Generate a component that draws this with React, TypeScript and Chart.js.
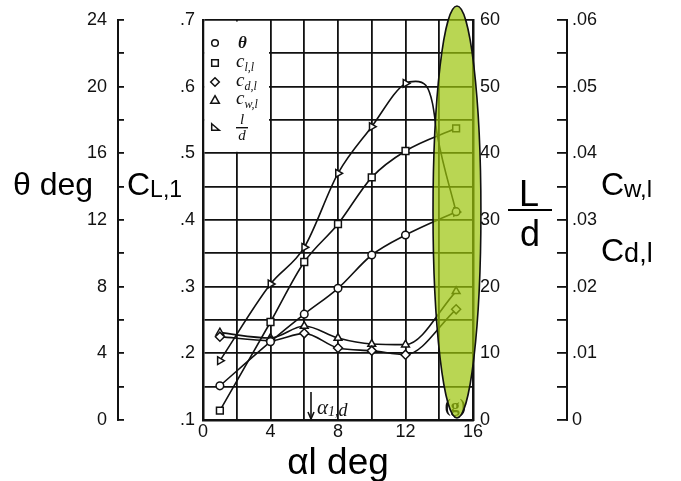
import { useEffect, useRef } from "react";
import { Chart, registerables } from "chart.js";

Chart.register(...registerables);

// ---- data ----
const alphaDeg = [1, 4, 6, 8, 10, 12, 15];
const thetaDeg = [2.05, 4.7, 6.35, 7.9, 9.9, 11.1, 12.5];
const clValues = [0.114, 0.247, 0.337, 0.394, 0.464, 0.5035, 0.5375];
const cwValues = [0.0131, 0.0123, 0.0141, 0.0123, 0.0114, 0.0113, 0.0193];
const cdValues = [0.0125, 0.0119, 0.013, 0.0108, 0.0104, 0.0098, 0.0166];
const ldAlpha = [1, 4, 6, 8, 10, 12, 12.6, 13.2, 13.6, 13.9, 15];
const ldValues = [8.9, 20.4, 25.9, 37, 44, 50.5, 50.8, 50.2, 47.5, 42.5, 31.2];
const ldMarked = [true, true, true, true, true, true, false, false, false, false, true];

const xTickLabels = ["0", "4", "8", "12", "16"];
const clTickLabels = [".1", ".2", ".3", ".4", ".5", ".6", ".7"];
const thetaTickLabels = ["0", "4", "8", "12", "16", "20", "24"];
const ldTickLabels = ["0", "10", "20", "30", "40", "50", "60"];
const cTickLabels = ["0", ".01", ".02", ".03", ".04", ".05", ".06"];

// highlighted region (alpha, L/d units)
const highlight = { alpha: 15.05, ld: 31.2, halfAlpha: 1.42, halfLd: 30.9 };
const alpha1d = 6.4;

const INK = "#111";
const SANS = "'Liberation Sans', Arial, sans-serif";
const SERIF = "'Liberation Serif', 'DejaVu Serif', serif";

const pts = (xs: number[], ys: number[]) => xs.map((x, i) => ({ x, y: ys[i] }));

function marker(ctx: CanvasRenderingContext2D, style: string, x: number, y: number, r: number) {
  ctx.beginPath();
  if (style === "circle") ctx.arc(x, y, r, 0, Math.PI * 2);
  else if (style === "rect") ctx.rect(x - r, y - r, 2 * r, 2 * r);
  else if (style === "diamond") {
    ctx.moveTo(x, y - r - 1); ctx.lineTo(x + r + 1, y); ctx.lineTo(x, y + r + 1); ctx.lineTo(x - r - 1, y); ctx.closePath();
  } else if (style === "triangle") {
    ctx.moveTo(x, y - r - 1); ctx.lineTo(x + r + 1, y + r); ctx.lineTo(x - r - 1, y + r); ctx.closePath();
  } else {
    ctx.moveTo(x - r, y - r); ctx.lineTo(x + r + 1, y + r); ctx.lineTo(x - r, y + r); ctx.closePath();
  }
  ctx.fillStyle = "#fff";
  ctx.fill();
  ctx.stroke();
}

function rich(ctx: CanvasRenderingContext2D, x: number, y: number, parts: [string, string, number][]) {
  let cx = x;
  for (const [t, font, dy] of parts) {
    ctx.font = font;
    ctx.fillText(t, cx, y + dy);
    cx += ctx.measureText(t).width;
  }
}

const fitV = (w: number) => (s: any) => {
  s.width = w;
  s.paddingTop = 8;
  s.paddingBottom = 8;
};

const overlay = {
  id: "overlay",
  beforeDatasetsDraw(chart: any) {
    const { ctx, scales } = chart;
    const l = scales.x.getPixelForValue(0);
    const r = scales.x.getPixelForValue(4);
    const t = scales.y.getPixelForValue(0.7);
    const b = scales.y.getPixelForValue(0.5);
    ctx.save();
    ctx.fillStyle = "#fff";
    ctx.fillRect(l + 1.5, t + 1.5, r - l - 3, b - t - 3);
    ctx.restore();
  },
  afterDatasetsDraw(chart: any) {
    const { ctx, scales } = chart;
    const { x, y, yLD } = scales;
    ctx.save();
    // alpha_1,d arrow
    const ax = x.getPixelForValue(alpha1d);
    const ay0 = y.getPixelForValue(0.142);
    const ay1 = y.getPixelForValue(0.1);
    ctx.strokeStyle = INK; ctx.lineWidth = 1.6;
    ctx.beginPath(); ctx.moveTo(ax, ay0); ctx.lineTo(ax, ay1 - 1); ctx.stroke();
    ctx.beginPath(); ctx.moveTo(ax - 3, ay1 - 8); ctx.lineTo(ax, ay1 - 1); ctx.lineTo(ax + 3, ay1 - 8); ctx.stroke();
    ctx.fillStyle = INK;
    ctx.textBaseline = "alphabetic";
    rich(ctx, ax + 6, ay1 - 6, [["α", `italic 21px ${SERIF}`, 0], ["1,", `italic 14px ${SERIF}`, 2], ["d", `italic 18px ${SERIF}`, 2]]);
    // (g)
    ctx.font = `bold 18px ${SERIF}`;
    ctx.textAlign = "center";
    ctx.fillText("(g)", x.getPixelForValue(14.95), y.getPixelForValue(0.1) - 8);
    // highlight ellipse
    const cx = x.getPixelForValue(highlight.alpha);
    const rx = x.getPixelForValue(highlight.alpha + highlight.halfAlpha) - cx;
    const cy = yLD.getPixelForValue(highlight.ld);
    const ry = cy - yLD.getPixelForValue(highlight.ld + highlight.halfLd);
    ctx.beginPath();
    ctx.ellipse(cx, cy, rx, ry, 0, 0, Math.PI * 2);
    ctx.fillStyle = "rgba(155,196,10,0.7)";
    ctx.fill();
    ctx.lineWidth = 1.6;
    ctx.strokeStyle = INK;
    ctx.stroke();
    ctx.restore();
  },
  afterDraw(chart: any) {
    const { ctx, chartArea } = chart;
    const L = chartArea.left, T = chartArea.top;
    ctx.save();
    // legend
    ctx.strokeStyle = INK; ctx.lineWidth = 1.5;
    const mx = L + 12, lx = L + 33;
    const rows = [T + 23, T + 43, T + 62, T + 80, T + 107];
    const styles = ["circle", "rect", "diamond", "triangle", "triRight"];
    styles.forEach((s, i) => marker(ctx, s, mx, rows[i], 3.3));
    ctx.fillStyle = INK;
    ctx.textAlign = "left";
    ctx.textBaseline = "alphabetic";
    rich(ctx, lx + 2, rows[0] + 5, [["θ", `bold italic 17px ${SERIF}`, 0]]);
    rich(ctx, lx, rows[1] + 4, [["c", `italic 19px ${SERIF}`, 0], ["l,l", `italic 12px ${SERIF}`, 4]]);
    rich(ctx, lx, rows[2] + 4, [["c", `italic 19px ${SERIF}`, 0], ["d,l", `italic 12px ${SERIF}`, 4]]);
    rich(ctx, lx, rows[3] + 4, [["c", `italic 19px ${SERIF}`, 0], ["w,l", `italic 12px ${SERIF}`, 4]]);
    ctx.textAlign = "center";
    ctx.font = `italic 15px ${SERIF}`;
    ctx.fillText("l", lx + 6, rows[4] - 3);
    ctx.fillText("d", lx + 6, rows[4] + 13);
    ctx.fillRect(lx, rows[4], 12, 1.4);
    // axis titles
    ctx.textAlign = "left";
    ctx.fillStyle = "#000";
    rich(ctx, 13, 195, [["θ deg", `32px ${SANS}`, 0]]);
    rich(ctx, 127, 195, [["C", `32px ${SANS}`, 0], ["L,1", `23px ${SANS}`, 2]]);
    rich(ctx, 601, 195, [["C", `32px ${SANS}`, 0], ["w,l", `24px ${SANS}`, 2]]);
    rich(ctx, 601, 261, [["C", `32px ${SANS}`, 0], ["d,l", `27px ${SANS}`, 1]]);
    ctx.textAlign = "center";
    ctx.font = `37px ${SANS}`;
    ctx.fillText("αl deg", (chartArea.left + chartArea.right) / 2, 474);
    ctx.font = `36px ${SANS}`;
    ctx.fillText("L", 529, 206);
    ctx.fillText("d", 530, 246);
    ctx.fillRect(508, 209, 44, 2);
    ctx.restore();
  },
};

const tickFont = { family: SANS, size: 18 };

export default function App() {
  const ref = useRef<HTMLCanvasElement | null>(null);
  useEffect(() => {
    if (!ref.current) return;
    const common = {
      borderColor: INK,
      borderWidth: 1.6,
      pointBackgroundColor: "#fff",
      pointBorderColor: INK,
      pointBorderWidth: 1.5,
      cubicInterpolationMode: "monotone" as const,
      fill: false,
    };
    const chart = new Chart(ref.current, {
      type: "line",
      data: {
        datasets: [
          { ...common, label: "θ", data: pts(alphaDeg, thetaDeg), yAxisID: "yTheta", pointStyle: "circle", pointRadius: 3.8 },
          { ...common, label: "cl,l", data: pts(alphaDeg, clValues), yAxisID: "y", pointStyle: "rect", pointRadius: 4.8 },
          { ...common, label: "cd,l", data: pts(alphaDeg, cdValues), yAxisID: "yC", pointStyle: "rectRot", pointRadius: 4.5 },
          { ...common, label: "cw,l", data: pts(alphaDeg, cwValues), yAxisID: "yC", pointStyle: "triangle", pointRadius: 4.5 },
          {
            ...common, label: "l/d", data: pts(ldAlpha, ldValues), yAxisID: "yLD", pointStyle: "triangle",
            pointRotation: 90, pointRadius: ldMarked.map((m) => (m ? 4.5 : 0)),
          },
        ],
      },
      options: {
        animation: false,
        responsive: false,
        maintainAspectRatio: false,
        layout: { padding: { left: 0, right: 0, top: 20, bottom: 0 } },
        plugins: { legend: { display: false }, tooltip: { enabled: false } },
        scales: {
          x: {
            type: "linear", position: "bottom", min: 0, max: 16,
            afterFit: (s: any) => { s.height = 61; s.paddingLeft = 8; s.paddingRight = 8; },
            ticks: {
              stepSize: 2, autoSkip: false, maxRotation: 0, padding: 1, color: INK, font: tickFont,
              callback: (v: any) => (v % 4 === 0 ? xTickLabels[v / 4] : ""),
            },
            grid: { color: INK, lineWidth: 1.8, drawTicks: false },
            border: { color: INK, width: 2.5 },
          },
          y: {
            type: "linear", position: "left", weight: 0, min: 0.1, max: 0.7,
            afterFit: fitV(85),
            ticks: {
              stepSize: 0.05, autoSkip: false, padding: 8, color: INK, font: tickFont,
              callback: (v: any) => {
                const k = Math.round(v * 20);
                return k % 2 === 0 ? clTickLabels[k / 2 - 1] : "";
              },
            },
            grid: { color: INK, lineWidth: 1.8, drawTicks: false },
            border: { color: INK, width: 2.5 },
          },
          yTheta: {
            type: "linear", position: "left", weight: 1, min: 0, max: 24,
            afterFit: fitV(118),
            ticks: {
              stepSize: 2, autoSkip: false, padding: 17, color: INK, font: tickFont,
              callback: (v: any) => (v % 4 === 0 ? thetaTickLabels[v / 4] : ""),
            },
            grid: { drawOnChartArea: false, drawTicks: true, tickLength: -6, color: INK, lineWidth: 1.8 },
            border: { color: INK, width: 2 },
          },
          yLD: {
            type: "linear", position: "right", weight: 0, min: 0, max: 60,
            afterFit: fitV(94),
            ticks: {
              stepSize: 10, autoSkip: false, padding: 7, color: INK, font: tickFont,
              callback: (v: any) => ldTickLabels[Math.round(v / 10)],
            },
            grid: { drawOnChartArea: false, drawTicks: false },
            border: { color: INK, width: 2.5 },
          },
          yC: {
            type: "linear", position: "right", weight: 1, min: 0, max: 0.06,
            afterFit: fitV(114),
            ticks: {
              stepSize: 0.005, autoSkip: false, padding: 15, color: INK, font: tickFont,
              callback: (v: any) => {
                const k = Math.round(v * 200);
                return k % 2 === 0 ? cTickLabels[k / 2] : "";
              },
            },
            grid: { drawOnChartArea: false, drawTicks: true, tickLength: -10, color: INK, lineWidth: 1.8 },
            border: { color: INK, width: 2 },
          },
        },
      } as any,
      plugins: [overlay],
    });
    return () => chart.destroy();
  }, []);
  return (
    <div style={{ position: "fixed", left: 0, top: 0, width: 681, height: 481, background: "#fff" }}>
      <canvas ref={ref} width={681} height={481} />
    </div>
  );
}
